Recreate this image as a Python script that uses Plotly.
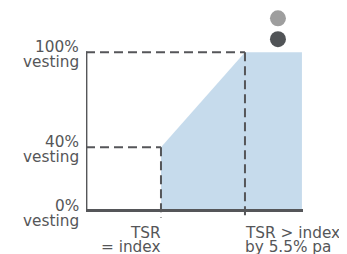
import plotly.graph_objects as go

# Data
thresholds = [0, 5.5]          # TSR excess over index (% pa)
vesting_levels = [40, 100]     # vesting at thresholds (%)
x_min, x_max = -4.91, 9.3
y_min, y_max = -6, 104
fill_end = 9.23
y_ticks = [100, 40, 0]
y_tick_top = ["100%", "40%", "0%"]
x_label_lines = [["TSR", "= index"], ["TSR > index", "by 5.5% pa"]]
legend_colors = ["#9e9e9e", "#515457"]
legend_x = [7.66, 7.66]
legend_y = [121.5, 108.3]

TXT = "#555658"
LINE = "#555659"
FILL = "#c6dbec"
FONT = dict(family="DejaVu Sans", size=15.3, color=TXT)

fig = go.Figure()

# vesting schedule area
fx = [thresholds[0], thresholds[0], thresholds[1], fill_end]
fy = [0, vesting_levels[0], vesting_levels[1], vesting_levels[1]]
fig.add_trace(go.Scatter(x=fx, y=fy, fill="tozeroy", mode="lines",
                         line=dict(width=0, color=FILL), fillcolor=FILL,
                         hoverinfo="skip", showlegend=False))

shapes = []
dash = "9px,5px"
# dashed guides
shapes.append(dict(type="line", xref="x", yref="y", x0=x_min, x1=thresholds[1],
                   y0=vesting_levels[1], y1=vesting_levels[1],
                   line=dict(color=LINE, width=2, dash=dash)))
shapes.append(dict(type="line", xref="x", yref="y", x0=x_min, x1=thresholds[0],
                   y0=vesting_levels[0], y1=vesting_levels[0],
                   line=dict(color=LINE, width=2, dash=dash)))
shapes.append(dict(type="line", xref="x", yref="y", x0=thresholds[0], x1=thresholds[0],
                   y0=vesting_levels[0], y1=-4.5,
                   line=dict(color=LINE, width=2, dash=dash)))
shapes.append(dict(type="line", xref="x", yref="y", x0=thresholds[1], x1=thresholds[1],
                   y0=vesting_levels[1], y1=-4.5,
                   line=dict(color=LINE, width=2, dash=dash)))
# axis lines
shapes.append(dict(type="line", xref="x", yref="y", x0=x_min, x1=x_min,
                   y0=-1, y1=100.5, line=dict(color=LINE, width=2.8)))
shapes.append(dict(type="line", xref="x", yref="y", x0=x_min, x1=x_max,
                   y0=0, y1=0, line=dict(color=LINE, width=2.8)))
# legend-like dots (paper-referenced so they are not clipped)
for lx, ly, c in zip(legend_x, legend_y, legend_colors):
    px = (lx - x_min) / (x_max - x_min)
    py = (ly - y_min) / (y_max - y_min)
    shapes.append(dict(type="circle", xref="paper", yref="paper",
                       xsizemode="pixel", ysizemode="pixel",
                       xanchor=px, yanchor=py, x0=-8, x1=8, y0=-8, y1=8,
                       fillcolor=c, line=dict(width=0)))

annotations = []
for v, t in zip(y_ticks, y_tick_top):
    annotations.append(dict(x=x_min, y=v, xref="x", yref="y", text=t,
                            showarrow=False, xanchor="right", yanchor="middle",
                            xshift=-5, yshift=5, font=FONT))
    annotations.append(dict(x=x_min, y=v, xref="x", yref="y", text="vesting",
                            showarrow=False, xanchor="right", yanchor="middle",
                            xshift=-5, yshift=-10, font=FONT))
for xv, lines, anc in zip(thresholds, x_label_lines, ["right", "left"]):
    for j, ln in enumerate(lines):
        annotations.append(dict(x=xv, y=0, xref="x", yref="y", text=ln,
                                showarrow=False, xanchor=anc, yanchor="middle",
                                xshift=-2 if anc == "left" else 2,
                                yshift=-22 - 14 * j, font=FONT))

# page body has an 8px margin; size/margins compensate for it
fig.update_layout(
    width=339, height=246,
    margin=dict(l=78, r=44, t=38, b=34),
    paper_bgcolor="white", plot_bgcolor="white",
    xaxis=dict(range=[x_min, x_max], visible=False, fixedrange=True),
    yaxis=dict(range=[y_min, y_max], visible=False, fixedrange=True),
    shapes=shapes, annotations=annotations, showlegend=False,
)

fig.write_html("out.html")
